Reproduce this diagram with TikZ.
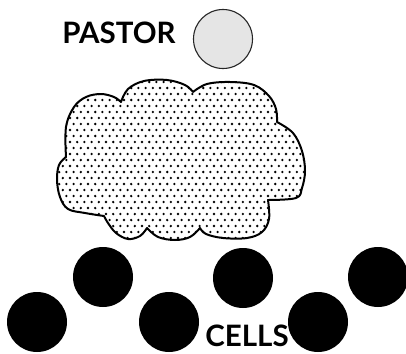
\documentclass[tikz,border=0pt]{standalone}
\usepackage{fontspec}
\setmainfont{Lato}
\begin{document}
\begin{tikzpicture}[x=1pt,y=-1pt,
  cell/.style={circle,fill=black,inner sep=0pt,minimum size=60pt},
  pastorc/.style={circle,draw=black!85,line width=1.1pt,fill=black!10,inner sep=0pt,minimum size=59pt},
  lbl/.style={font=\fontsize{29.5}{31}\selectfont\bfseries,inner sep=0pt,anchor=base}]
\useasboundingbox (0,0) rectangle (406,353);
\def\cloudpath{(66,157) -- plot[smooth,tension=0.6] coordinates {(66,157) (66,127) (74,107) (86,97) (101,94) (114,97) (121,102)}
 -- plot[smooth,tension=0.6] coordinates {(121,102) (128,89) (144,81) (167,80) (185,85) (193,92)}
 -- plot[smooth,tension=0.6] coordinates {(193,92) (207,84) (230,82) (254,85) (269,96) (276,109) (277,122)}
 -- plot[smooth,tension=0.6] coordinates {(277,122) (293,133) (302,151) (305,171) (302,188) (296,198) (268,200)}
 -- plot[smooth,tension=0.6] coordinates {(268,200) (269,219) (262,232) (247,238) (223,238) (206,234) (200,228)}
 -- plot[smooth,tension=0.6] coordinates {(200,228) (190,237) (175,240) (158,237) (147,228)}
 -- plot[smooth,tension=0.6] coordinates {(147,228) (140,236) (128,239) (116,233) (108,223) (104,216)}
 -- plot[smooth,tension=0.6] coordinates {(104,216) (85,213) (68,209) (60,197) (57,180) (59,165) (66,157)} -- cycle}
\begin{scope}
  \clip \cloudpath;
  \fill[white] (50,70) rectangle (310,245);
  \foreach \r in {0,...,29}{
    \pgfmathsetmacro{\yy}{76+\r*6}
    \pgfmathsetmacro{\off}{mod(\r,2)*3.6}
    \foreach \c in {0,...,36}{
      \fill[black] ({52+\off+\c*7.2},\yy) circle (1.3);
    }
  }
\end{scope}
\draw[line width=2pt,line join=round] \cloudpath;
\node[pastorc] (pastor) at (223,39) {};
\node[lbl] (pastorlbl) at (119,44) {PASTOR};
\node[cell] (c1) at (37,322) {};
\node[cell] (c2) at (103,277) {};
\node[cell] (c3) at (169,322) {};
\node[cell] (c4) at (243,278) {};
\node[cell] (c5) at (318,322) {};
\node[cell] (c6) at (378,277) {};
\node[lbl] (cellslbl) at (247,346.5) {CELLS};
\end{tikzpicture}
\end{document}
